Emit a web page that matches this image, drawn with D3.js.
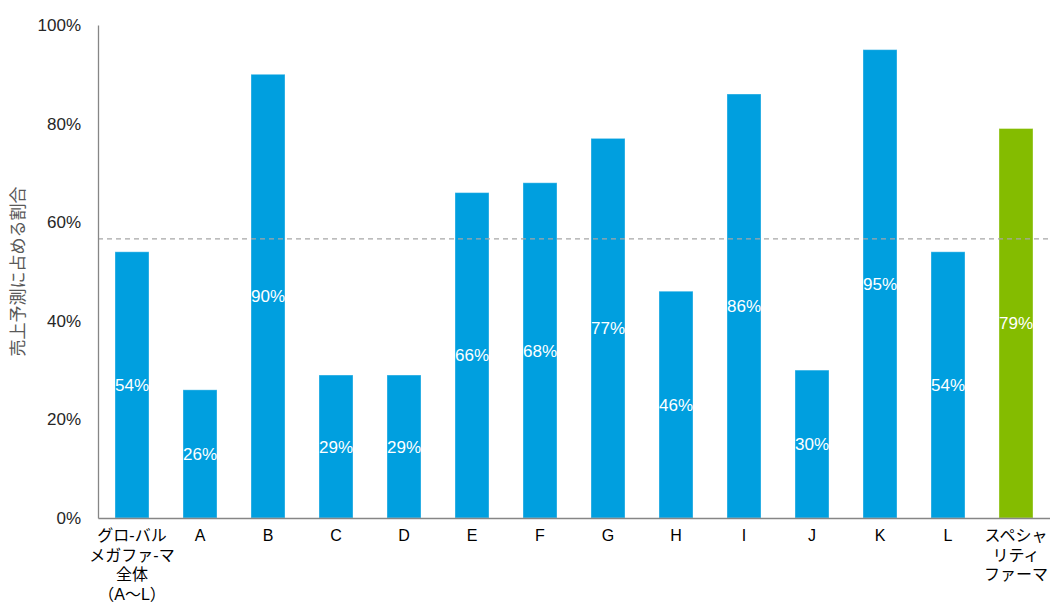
<!DOCTYPE html>
<html>
<head>
<meta charset="utf-8">
<script src="https://cdn.jsdelivr.net/npm/d3@7"></script>
<style>
  html, body { margin: 0; padding: 0; background: #fff; }
  svg { display: block; }
  text { font-family: "Liberation Sans", Arial, "Noto Sans CJK JP", sans-serif; }
</style>
</head>
<body>
<svg id="chart" width="1050" height="602"></svg>
<script>
// Categories (multi-line labels split on "\n")
const categories = [
  "グロ-バル\nメガファ-マ\n全体\n（A～L）",
  "A", "B", "C", "D", "E", "F", "G", "H", "I", "J", "K", "L",
  "スペシャ\nリティ\nファーマ"
];
// Share of forecast sales (%)
const values = [54, 26, 90, 29, 29, 66, 68, 77, 46, 86, 30, 95, 54, 79];
// Which bars belong to the specialty group
const groups = ["mega","mega","mega","mega","mega","mega","mega","mega","mega","mega","mega","mega","mega","specialty"];
// Reference line (%)
const referenceLine = [56.6];
// Y tick labels
const yTicks = [0, 20, 40, 60, 80, 100];
const yTitle = "売上予測に占める割合";

const svg = d3.select("#chart");
const margin = { left: 98, right: 0, top: 25, bottom: 84 };
const W = 1050, H = 602;

const x = d3.scaleBand()
  .domain(d3.range(categories.length))
  .range([margin.left, W - margin.right])
  .paddingInner(0.5)
  .paddingOuter(0.25);

const y = d3.scaleLinear()
  .domain([0, 100])
  .range([H - margin.bottom, margin.top]);

const colors = { mega: "#009FDF", specialty: "#84BC00" };

// Bars
svg.append("g")
  .selectAll("rect")
  .data(values)
  .join("rect")
  .attr("x", (d, i) => x(i))
  .attr("y", d => y(d))
  .attr("width", x.bandwidth())
  .attr("height", d => y(0) - y(d))
  .attr("fill", (d, i) => colors[groups[i]])
  .attr("stroke", "rgba(255,255,255,0.35)")
  .attr("stroke-width", 1);

// Value labels, centred in each bar
svg.append("g")
  .selectAll("text")
  .data(values)
  .join("text")
  .attr("x", (d, i) => x(i) + x.bandwidth() / 2)
  .attr("y", d => (y(d) + y(0)) / 2)
  .attr("dy", "0.36em")
  .attr("text-anchor", "middle")
  .attr("fill", "#fff")
  .attr("font-size", 17)
  .text(d => d + "%");

// Dashed reference line
svg.append("g")
  .selectAll("line")
  .data(referenceLine)
  .join("line")
  .attr("x1", margin.left)
  .attr("x2", W)
  .attr("y1", d => y(d))
  .attr("y2", d => y(d))
  .attr("stroke", "#A6A6A6")
  .attr("stroke-width", 1.3)
  .attr("stroke-dasharray", "5,4");

// Y axis
const yAxis = svg.append("g")
  .attr("transform", `translate(${margin.left},0)`)
  .call(d3.axisLeft(y).tickValues(yTicks).tickSize(0).tickPadding(17).tickFormat(d => d + "%"));
yAxis.select(".domain").attr("stroke", "#868686").attr("stroke-width", 1.3);
yAxis.selectAll("text")
  .attr("font-size", 17)
  .attr("fill", "#262626")
  .attr("font-family", "'Liberation Sans', Arial, sans-serif");

// X axis
const xAxis = svg.append("g")
  .attr("transform", `translate(0,${y(0)})`)
  .call(d3.axisBottom(x).tickSize(0).tickFormat(""));
xAxis.select(".domain").attr("stroke", "#868686").attr("stroke-width", 1.3);

// Multi-line category labels
xAxis.selectAll(".tick").each(function(d) {
  const lines = categories[d].split("\n");
  const t = d3.select(this).append("text")
    .attr("text-anchor", "middle")
    .attr("fill", "#000")
    .attr("font-size", 16)
    .attr("font-family", "'Liberation Sans', Arial, 'Noto Sans CJK JP', sans-serif");
  lines.forEach((ln, k) => {
    t.append("tspan")
      .attr("x", 0)
      .attr("y", 23 + k * 19.5)
      .text(ln);
  });
});

// Y axis title
svg.append("text")
  .attr("transform", `translate(24,${(y(0) + y(100)) / 2}) rotate(-90)`)
  .attr("text-anchor", "middle")
  .attr("fill", "#595959")
  .attr("font-size", 17)
  .attr("font-family", "'Noto Sans CJK JP', sans-serif")
  .text(yTitle);
</script>
</body>
</html>
